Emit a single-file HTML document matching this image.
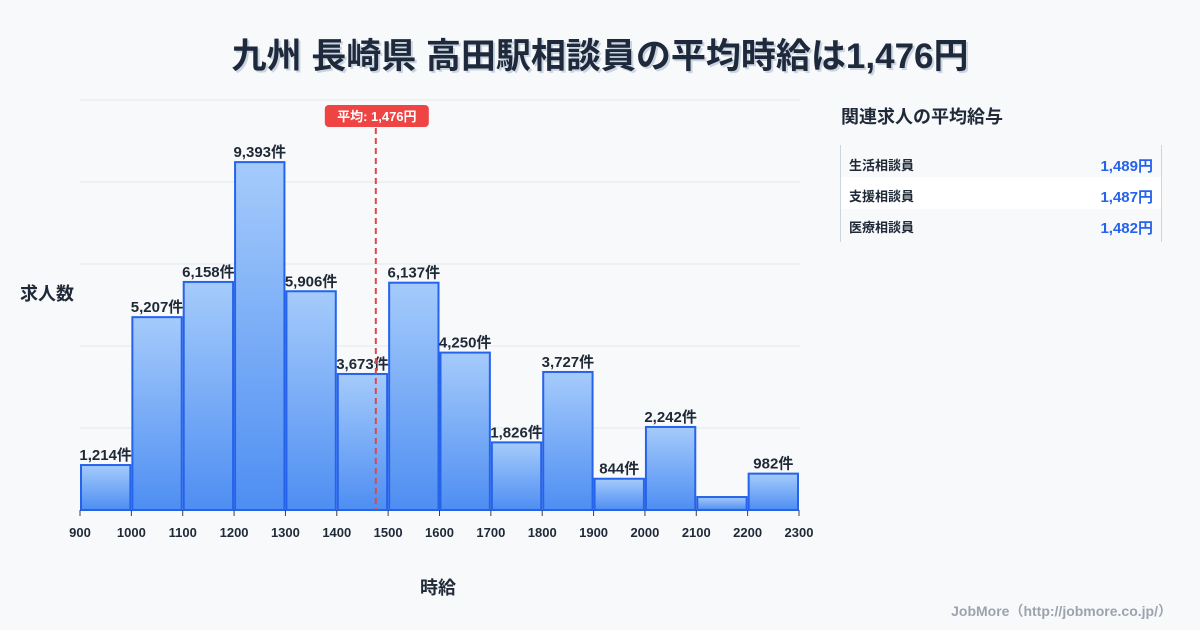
<!DOCTYPE html>
<html><head><meta charset="utf-8"><style>
body{margin:0;width:1200px;height:630px;background:#f8f9fb;font-family:"Liberation Sans","Noto Sans CJK JP",sans-serif;overflow:hidden;position:relative;color:#1f2937}
.t{position:absolute;font-weight:bold}
</style></head><body>
<div class="t" style="left:0;width:1200px;top:28px;text-align:center;font-size:35px;color:#1e293b;text-shadow:2px 2px 0 #cbd5e1">九州 長崎県 高田駅相談員の平均時給は1,476円</div>
<svg width="1200" height="630" style="position:absolute;left:0;top:0" id="c">
<defs><linearGradient id="g" x1="0" y1="0" x2="0" y2="1"><stop offset="0" stop-color="#a5cbfb"/><stop offset="1" stop-color="#4e8ef2"/></linearGradient></defs>
</svg>
<div class="t" style="left:20px;top:280px;font-size:18px">求人数</div>
<div class="t" style="left:420px;top:574px;font-size:18px">時給</div>
<div class="t" style="left:841px;top:103px;font-size:18px">関連求人の平均給与</div>
<div style="position:absolute;left:840px;top:145px;width:320px;height:97px;border-left:1px solid #cbd5e1;border-right:1px solid #cbd5e1">
<div style="height:32px;position:relative"><span class="t" style="left:8px;top:10px;font-size:13px">生活相談員</span><span class="t" style="right:8px;top:10px;font-size:15px;color:#2563eb">1,489円</span></div>
<div style="height:32px;position:relative;background:#fff"><span class="t" style="left:8px;top:9px;font-size:13px">支援相談員</span><span class="t" style="right:8px;top:9px;font-size:15px;color:#2563eb">1,487円</span></div>
<div style="height:32px;position:relative"><span class="t" style="left:8px;top:8px;font-size:13px">医療相談員</span><span class="t" style="right:8px;top:8px;font-size:15px;color:#2563eb">1,482円</span></div>
</div>
<div class="t" style="right:28px;top:601px;font-size:14px;color:#9ca3af">JobMore（http://jobmore.co.jp/）</div>
<script>
const bins=[900,1000,1100,1200,1300,1400,1500,1600,1700,1800,1900,2000,2100,2200];
const counts=[1214,5207,6158,9393,5906,3673,6137,4250,1826,3727,844,2242,350,982];
const labels=["1,214件","5,207件","6,158件","9,393件","5,906件","3,673件","6,137件","4,250件","1,826件","3,727件","844件","2,242件","","982件"];
const ticks=[900,1000,1100,1200,1300,1400,1500,1600,1700,1800,1900,2000,2100,2200,2300];
const avg=1476;
const yMax=11070;
const svg=document.getElementById('c');const NS='http://www.w3.org/2000/svg';
const X=v=>80+(v-900)*(719/1400);const Y=v=>510-v*(410/yMax);
function mk(t,a){const e=document.createElementNS(NS,t);for(const k in a)e.setAttribute(k,a[k]);svg.appendChild(e);return e;}
for(let i=0;i<=5;i++){const y=510-i*82;const l=mk('line',{x1:80,x2:800,y1:y,y2:y,stroke:'#e5e7eb'});

}
bins.forEach((b,i)=>{const x0=X(b)+1,x1=X(b+100)-1,y=Y(counts[i]);
const r=mk('rect',{x:x0,y:y,width:x1-x0,height:510-y,fill:'url(#g)',stroke:'#2563eb','stroke-width':2});


if(labels[i]){const t=mk('text',{x:(x0+x1)/2,y:y-5,'text-anchor':'middle','font-size':15,'font-weight':'bold',fill:'#1f2937'});t.textContent=labels[i];

}});
ticks.forEach(v=>{const x=X(v);mk('line',{x1:x,x2:x,y1:510,y2:516,stroke:'#374151'});
const t=mk('text',{x:x,y:537,'text-anchor':'middle','font-size':13,'font-weight':'bold',fill:'#1f2937'});t.textContent=v;

});
const ax=X(avg);
const ml=mk('line',{x1:ax,x2:ax,y1:118,y2:510,stroke:'#e04848','stroke-width':2,'stroke-dasharray':'6,4'});


const bg=mk('rect',{x:ax-51,y:105,width:104,height:22,rx:4,fill:'#ef4444'});


const at=mk('text',{x:ax+1,y:121,'text-anchor':'middle','font-size':13,'font-weight':'bold',fill:'#fff'});at.textContent='平均: 1,476円';


</script>
</body></html>
